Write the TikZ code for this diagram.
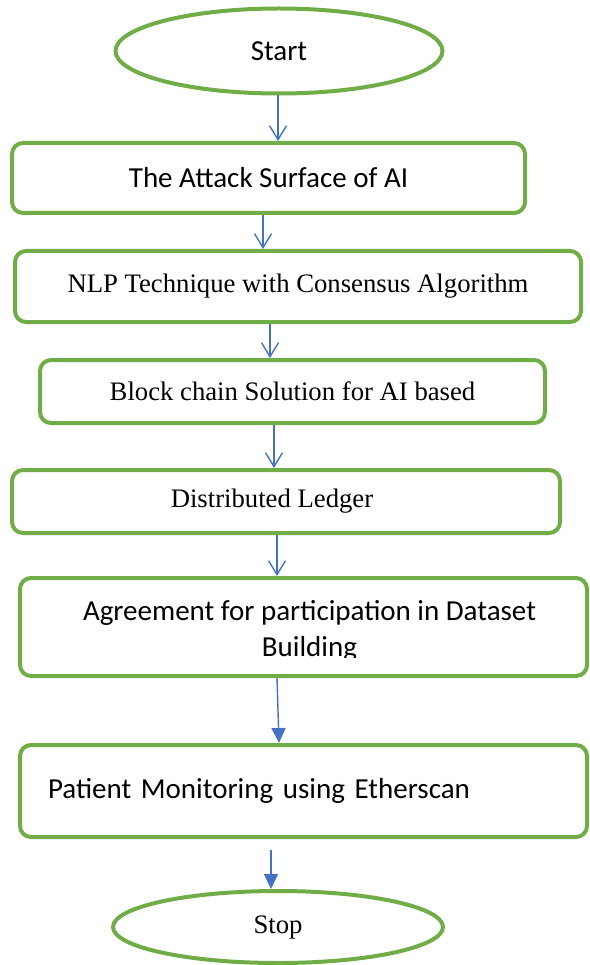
\documentclass[tikz,border=0pt]{standalone}
\usepackage{fontspec}
\setmainfont{Liberation Serif}
\newfontfamily\calibrifont{Carlito}
\usetikzlibrary{arrows.meta,calc,shapes.geometric}
\definecolor{boxgreen}{HTML}{70AD47}
\definecolor{arrblue}{HTML}{4472C4}
\tikzset{
  x=1pt, y=-1pt,
  stepbox/.style={draw=boxgreen, line width=4pt, rounded corners=11pt, fill=white, inner sep=0pt},
  terminal/.style={draw=boxgreen, line width=4pt, ellipse, fill=white, inner sep=0pt},
  calfont/.style={font=\calibrifont\fontsize{29}{36}\selectfont},
  timesfont/.style={font=\fontsize{26.7}{32}\selectfont},
  openarr/.style={draw=arrblue, line width=1.4pt, -{Straight Barb[length=14pt,width=17pt,line width=1.4pt]}},
  fillarr/.style={draw=arrblue, line width=1.4pt, -{Triangle[length=15pt,width=14pt]}, fill=arrblue},
}
\begin{document}
\begin{tikzpicture}
\useasboundingbox (0,0) rectangle (589,965);
% terminals
\node[terminal, minimum width=327pt, minimum height=85pt, calfont] (start) at (279,51) {Start};
\node[terminal, minimum width=330pt, minimum height=72pt, timesfont] (stop) at (278,927) {Stop};
% boxes
\node[stepbox, minimum width=513pt, minimum height=70pt, calfont] (b1) at (268.5,178) {The Attack Surface of AI};
\node[stepbox, minimum width=566pt, minimum height=71pt, timesfont] (b2) at (298,286.5) {NLP Technique with Consensus Algorithm};
\node[stepbox, minimum width=505pt, minimum height=63pt, timesfont] (b3) at (292.5,391.5) {Block chain Solution for AI based};
\node[stepbox, minimum width=548pt, minimum height=63pt] (b4) at (286,501.5) {};
\node[timesfont, inner sep=0pt] (t4) at (272,501) {Distributed Ledger};
\node[stepbox, minimum width=567pt, minimum height=98pt] (b5) at (303.5,627) {};
\begin{scope}
  \clip (20,580) rectangle (589,657);
  \node[calfont, align=center, inner sep=0pt] (t5) at (309.5,631) {Agreement for participation in Dataset\\Building};
\end{scope}
\node[stepbox, minimum width=567pt, minimum height=92pt, calfont, text width=511pt, align=left] (b6) at (303.5,791) {Patient Monitoring using Etherscan};
% connectors
\draw[openarr] (278,0 |- start.south) -- (278,0 |- b1.north);
\draw[openarr] (263,0 |- b1.south) -- (263,0 |- b2.north);
\draw[openarr] (270,0 |- b2.south) -- (270,0 |- b3.north);
\draw[openarr] (274,0 |- b3.south) -- (274,0 |- b4.north);
\draw[openarr] (277,0 |- b4.south) -- (277,0 |- b5.north);
\draw[fillarr] (277,0 |- b5.south) -- (279,0 |- b6.north);
\coordinate (a7s) at ($(271,0 |- b6.south)+(0,11)$);
\draw[fillarr] (a7s) -- (271,0 |- stop.north);
\end{tikzpicture}
\end{document}
